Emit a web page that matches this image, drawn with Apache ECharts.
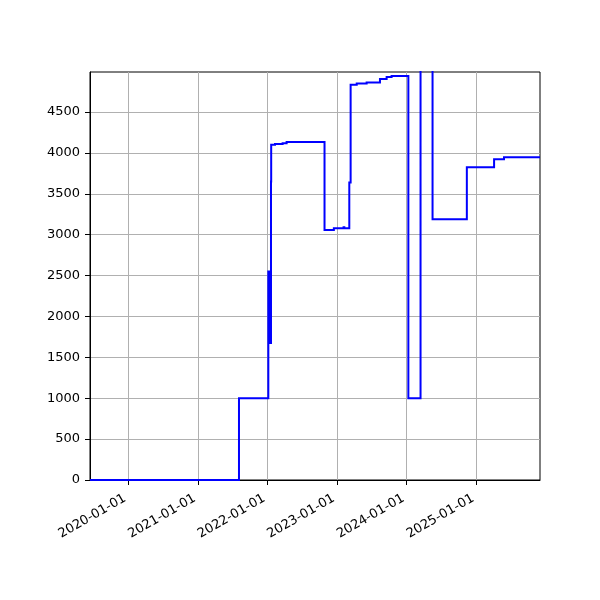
<!DOCTYPE html>
<html>
<head>
<meta charset="utf-8">
<script src="https://cdn.jsdelivr.net/npm/echarts@6/dist/echarts.min.js"></script>
<style>
  html, body { margin: 0; padding: 0; background: #fff; }
  #main { width: 600px; height: 600px; }
</style>
</head>
<body>
<div id="main"></div>
<script>
// change dates (value holds from this date on) and the values
var dates = [
  '2019-06-14', '2021-08-04',
  '2022-01-05', '2022-01-06', '2022-01-07', '2022-01-08', '2022-01-09', '2022-01-10',
  '2022-01-11', '2022-01-12', '2022-01-13', '2022-01-14', '2022-01-15', '2022-01-16',
  '2022-01-17', '2022-01-18', '2022-01-19',
  '2022-01-20', '2022-02-09', '2022-03-21', '2022-04-11',
  '2022-10-27', '2022-12-15', '2023-02-04', '2023-02-08', '2023-03-06', '2023-03-13',
  '2023-04-14', '2023-06-05', '2023-08-14', '2023-09-18', '2023-10-14',
  '2024-01-10', '2024-03-14', '2024-05-16', '2024-11-12', '2025-04-04', '2025-05-26',
  '2025-12-01'
];
var values = [
  0, 1000,
  2550, 1700, 2540, 1690, 2530, 1680, 2550, 1680, 2520, 1675, 2500, 1680,
  2480, 1675, 3650,
  4100, 4110, 4120, 4135,
  3057, 3078, 3090, 3080, 3640, 4834,
  4850, 4862, 4904, 4929, 4941,
  1000, 6000, 3190, 3826, 3924, 3948,
  3948
];
var yTicks = [0, 500, 1000, 1500, 2000, 2500, 3000, 3500, 4000, 4500];
var xTickLabels = ['2020-01-01', '2021-01-01', '2022-01-01', '2023-01-01', '2024-01-01', '2025-01-01'];

function toTime(s) {
  var p = s.split('-');
  return Date.UTC(+p[0], +p[1] - 1, +p[2]);
}
function pad(n) { return (n < 10 ? '0' : '') + n; }
function fmtDate(v) {
  var d = new Date(v);
  return d.getUTCFullYear() + '-' + pad(d.getUTCMonth() + 1) + '-' + pad(d.getUTCDate());
}

// step path (value changes at each date); the line series merges 1-2px steps,
// so the steps are drawn as one polyline through the axes instead
var stepCoords = [];
dates.forEach(function (d, i) {
  var t = toTime(d);
  if (i > 0) stepCoords.push([t, values[i - 1]]);
  stepCoords.push([t, values[i]]);
});
var xTicks = xTickLabels.map(toTime);

var chart = echarts.init(document.getElementById('main'));
chart.setOption({
  animation: false,
  textStyle: { fontFamily: 'DejaVu Sans' },
  grid: {
    left: 90, right: 60, top: 72, bottom: 120,
    show: true, borderColor: '#000', borderWidth: 1, backgroundColor: 'transparent'
  },
  xAxis: {
    type: 'value',
    scale: true,
    min: toTime('2019-06-14'),
    max: toTime('2025-12-01'),
    axisLine: { show: true, onZero: false, lineStyle: { color: '#000', width: 1 } },
    axisTick: { show: true, length: 5, lineStyle: { color: '#000' }, customValues: xTicks },
    axisLabel: {
      customValues: xTicks,
      rotate: 30,
      align: 'right',
      verticalAlign: 'bottom',
      color: '#000',
      fontSize: 13,
      margin: 23,
      formatter: fmtDate
    },
    splitLine: { show: true, lineStyle: { color: '#b0b0b0', width: 1 } }
  },
  yAxis: {
    type: 'value',
    min: 0,
    max: 4990,
    interval: 500,
    axisLine: { show: true, lineStyle: { color: '#000', width: 1 } },
    axisTick: { show: true, length: 5, lineStyle: { color: '#000' }, customValues: yTicks },
    axisLabel: {
      customValues: yTicks, color: '#000', fontSize: 13, margin: 10,
      formatter: function (v) { return String(v); }
    },
    splitLine: { show: true, lineStyle: { color: '#b0b0b0', width: 1 } }
  },
  series: [{
    type: 'lines',
    coordinateSystem: 'cartesian2d',
    polyline: true,
    clip: true,
    silent: true,
    data: [{ coords: stepCoords }],
    lineStyle: { color: '#0000ff', width: 2, opacity: 1 }
  }]
});
</script>
</body>
</html>
